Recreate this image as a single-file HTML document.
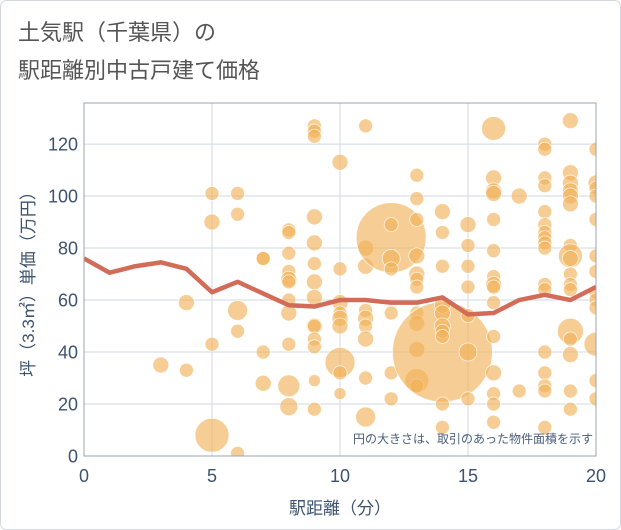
<!DOCTYPE html>
<html><head><meta charset="utf-8"><style>
body{margin:0;background:#fff;}
svg{display:block;font-family:"Liberation Sans","Noto Sans CJK JP",sans-serif;}
</style></head><body>
<svg width="621" height="530" viewBox="0 0 621 530" xmlns="http://www.w3.org/2000/svg">
<rect x="0.5" y="0.5" width="620" height="529" rx="6" fill="#fff" stroke="#d5d9de"/>
<text x="18" y="40" font-size="22" fill="#555">土気駅（千葉県）の</text>
<text x="18" y="78" font-size="22" fill="#555">駅距離別中古戸建て価格</text>
<g id="grid"></g>
<defs><clipPath id="clip"><rect x="84" y="103" width="512" height="353"/></clipPath></defs>
<g id="bubbles" clip-path="url(#clip)"></g>
<g id="line" clip-path="url(#clip)"></g>
<rect x="84" y="103" width="512" height="353" fill="none" stroke="#9aa4ae" stroke-width="1"/>
<g id="axes"></g>
<text x="593" y="443" font-size="12" fill="#4a5e7a" text-anchor="end">円の大きさは、取引のあった物件面積を示す</text>
<text x="340" y="514" font-size="17" fill="#3d5370" text-anchor="middle">駅距離（分）</text>
<text transform="translate(34,280) rotate(-90)" font-size="17" fill="#3d5370" text-anchor="middle">坪（3.3㎡）単価（万円）</text>
</svg>
<script>
const xTicks=[0,5,10,15,20];
const yTicks=[0,20,40,60,80,100,120];
const lineX=[0,1,2,3,4,5,6,7,8,9,10,11,12,13,14,15,16,17,18,19,20];
const lineY=[76,70.5,73,74.5,72,63,67,62.5,58,57.5,60,60,59,59,61,54.5,55,60,62,60,65];
const bubbleX=[3,4,4,5,5,5,5,6,6,6,6,6,7,7,7,7,8,8,8,8,8,8,8,8,8,8,8,9,9,9,9,9,9,9,9,9,9,9,9,9,9,
10,10,10,10,10,10,10,10,10,11,11,11,11,11,11,11,11,11,12,12,12,12,12,12,12,13,13,13,13,13,13,13,13,13,13,13,13,
14,14,14,14,14,14,14,14,14,14,14,15,15,15,15,15,15,15,16,16,16,16,16,16,16,16,16,16,16,16,16,16,16,17,17,
18,18,18,18,18,18,18,18,18,18,18,18,18,18,18,18,18,19,19,19,19,19,19,19,19,19,19,19,19,19,19,19,19,19,
20,20,20,20,20,20,20,20,20,20,20,20,20];
const bubbleY=[35,59,33,101,90,43,8,101,93,56,48,1,76,76,40,28,87,86,78,71,68,67,60,55,43,27,19,127,125,123,92,82,74,67,61,50,50,45,42,29,18,
113,72,59,55,53,50,36,32,24,127,80,73,56,53,50,45,30,15,84,89,76,72,55,32,22,108,99,91,77,70,68,65,55,51,41,29,27,
40,94,86,73,58,55,50,48,46,20,11,89,81,73,65,54,40,22,126,107,102,101,91,79,69,66,65,59,46,32,24,20,13,100,25,
120,118,107,104,94,89,86,84,82,80,66,64,40,32,27,25,11,129,109,105,102,100,97,81,77,76,70,66,64,48,45,39,25,18,
118,105,103,100,91,77,71,63,60,57,43,29,22];
const bubbleR=[8,8,7,7,8,7,17,7,7,10,7,7,7,7,7,8,7,7,7,7,8,7,7,8,7,11,9,7,7,7,8,8,7,8,8,8,7,7,7,6,7,
8,7,8,7,8,8,15,7,6,7,8,8,7,8,7,8,7,10,35,7,9,7,7,7,7,7,7,7,8,8,7,7,7,8,8,12,7,
50,8,7,7,8,8,8,7,7,7,7,8,7,7,7,7,9,7,12,8,8,8,7,7,7,8,7,7,7,8,7,7,7,8,7,
7,7,7,7,7,7,7,7,7,7,7,7,7,7,7,7,7,8,8,8,8,8,8,7,12,8,7,7,7,13,7,8,7,7,
7,8,7,7,7,7,7,7,7,7,12,7,7];
const X0=84,X1=596,Y0=456,Y1=103;
const sx=v=>X0+(v-0)/20*(X1-X0);
const sy=v=>Y0-v/135.8*(Y0-Y1);
const NS='http://www.w3.org/2000/svg';
const grid=document.getElementById('grid'),axes=document.getElementById('axes');
function mk(t,a,p){const e=document.createElementNS(NS,t);for(const k in a)e.setAttribute(k,a[k]);p.appendChild(e);return e;}
xTicks.forEach(v=>{const l=mk('line',{x1:sx(v),x2:sx(v),y1:Y1,y2:Y0,stroke:'#d0d8e2','stroke-width':1},grid);


const t=mk('text',{x:sx(v),y:482,'font-size':18,fill:'#3d5370','text-anchor':'middle'},axes);t.textContent=v;

});
yTicks.forEach(v=>{const l=mk('line',{x1:X0,x2:X1,y1:sy(v),y2:sy(v),stroke:'#d0d8e2','stroke-width':1},grid);


const t=mk('text',{x:78,y:sy(v)+6.5,'font-size':18,fill:'#3d5370','text-anchor':'end'},axes);t.textContent=v;

});
const bg=document.getElementById('bubbles');
bubbleX.forEach((x,i)=>{const c=mk('circle',{cx:sx(x),cy:sy(bubbleY[i]),r:bubbleR[i],fill:'#f0b054','fill-opacity':0.62,stroke:'#fff','stroke-width':0.8,'stroke-opacity':0.8},bg);

});
const pts=lineX.map((x,i)=>sx(x)+','+sy(lineY[i])).join(' ');
const pl=mk('polyline',{points:pts,fill:'none',stroke:'#d26c58','stroke-width':4.5,'stroke-linejoin':'round'},document.getElementById('line'));


</script>
</body></html>
